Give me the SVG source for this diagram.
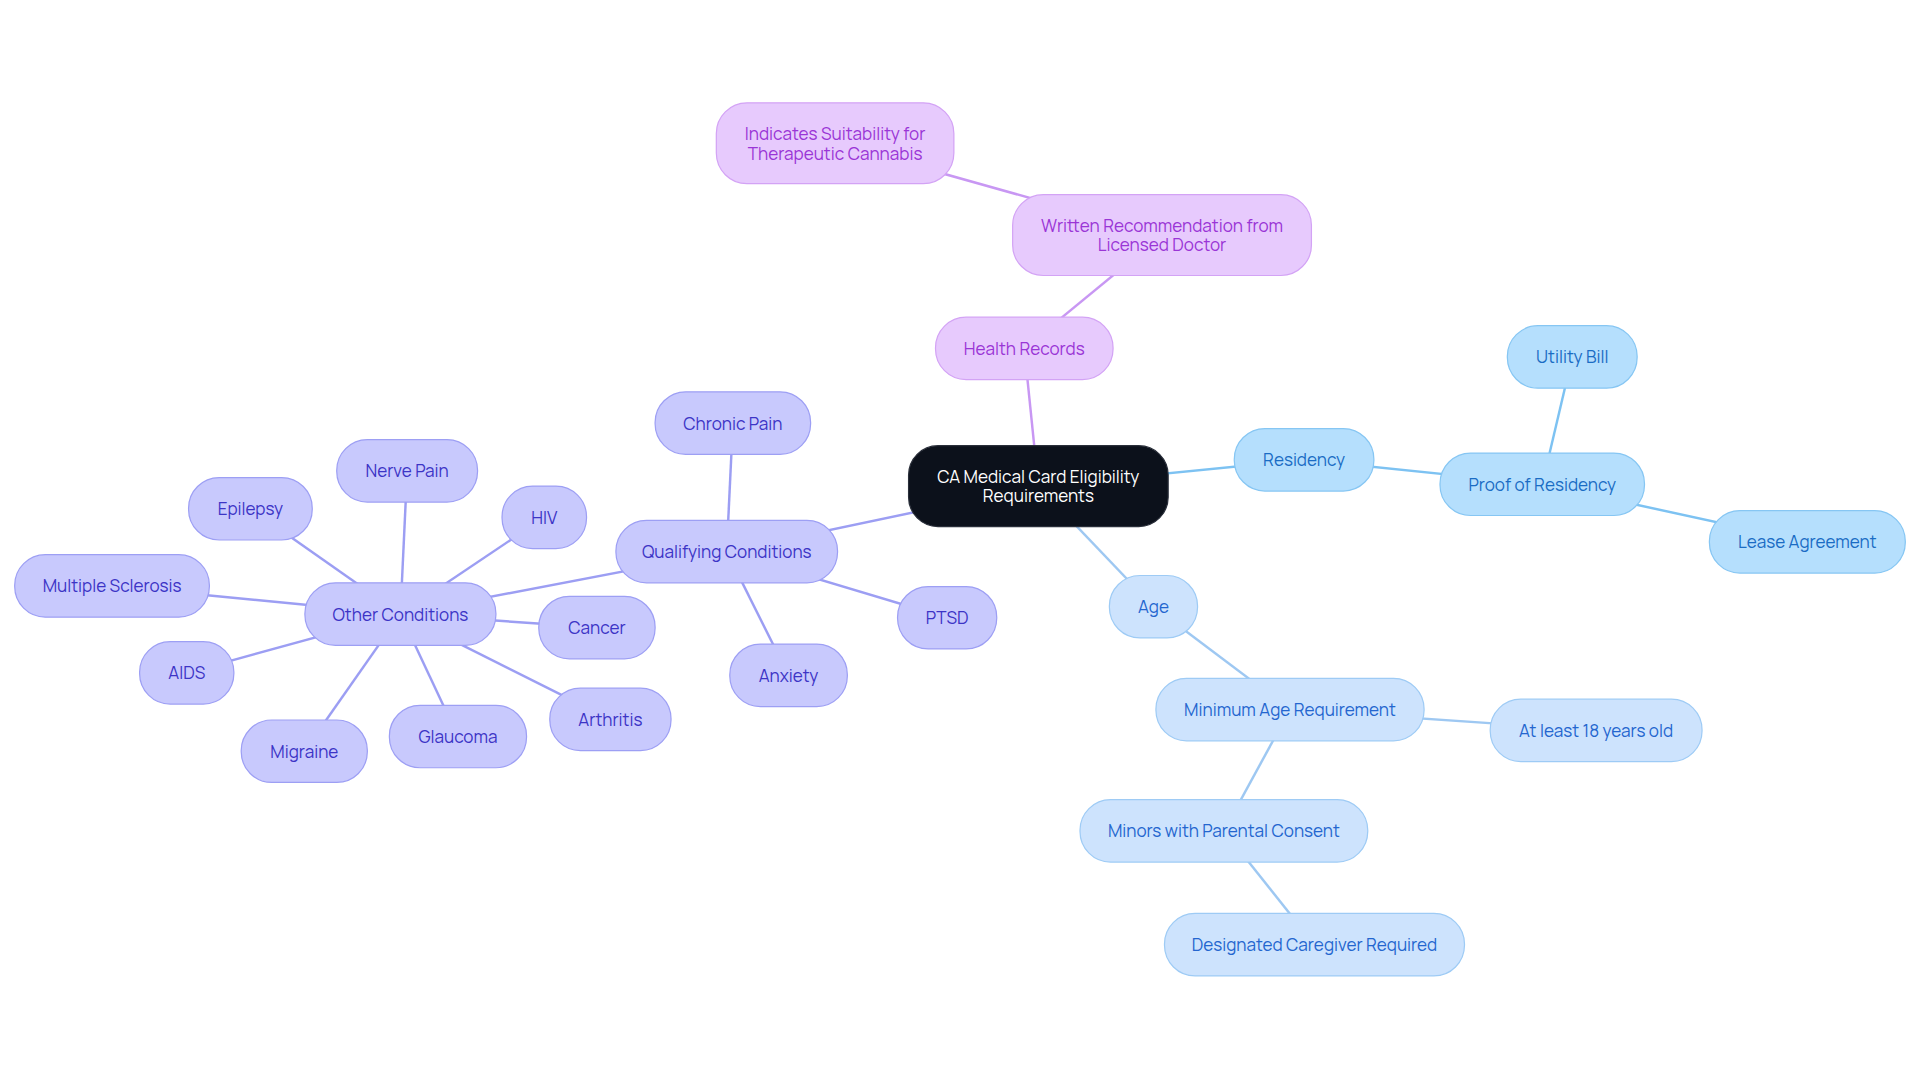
<svg xmlns="http://www.w3.org/2000/svg" width="1920" height="1083" viewBox="0 0 1920 1083">
<style>
text{font-family:Manrope,Inter,"Noto Sans",sans-serif;font-size:14px;text-anchor:middle;dominant-baseline:central}
rect{stroke-width:1}
.root rect{fill:#0c111b;stroke:#2a2f3a}
.root text{fill:#ffffff}
.p rect{fill:#e7cafd;stroke:#d3a3f5}
.p text{fill:#9a35d6}
.b rect{fill:#b5dffd;stroke:#86c6f3}
.b text{fill:#1a6cc4}
.a rect{fill:#cde3fd;stroke:#9ecbf5}
.a text{fill:#2466cf}
.q rect{fill:#c8c9fd;stroke:#9d9ff4}
.q text{fill:#3c34c6}
#edges line{stroke-width:2;fill:none}
.ep{stroke:#c897f3}
.eb{stroke:#7dc2f2}
.ea{stroke:#9ec8f2}
.eq{stroke:#9c9ef3}
</style>
<rect width="1920" height="1083" fill="#ffffff"/>
<g transform="scale(1.22449)">
<g id="edges">
<line class="ep" x1="848" y1="397" x2="836.5" y2="284.5"/>
<line class="ep" x1="836.5" y1="284.5" x2="949" y2="192"/>
<line class="ep" x1="949" y1="192" x2="682" y2="117"/>
<line class="eb" x1="848" y1="397" x2="1065" y2="375.5"/>
<line class="eb" x1="1065" y1="375.5" x2="1259.5" y2="395.5"/>
<line class="eb" x1="1259.5" y1="395.5" x2="1284" y2="291.5"/>
<line class="eb" x1="1259.5" y1="395.5" x2="1476" y2="442.5"/>
<line class="ea" x1="848" y1="397" x2="942" y2="495.5"/>
<line class="ea" x1="942" y1="495.5" x2="1053.5" y2="579.5"/>
<line class="ea" x1="1053.5" y1="579.5" x2="1303.5" y2="596.5"/>
<line class="ea" x1="1053.5" y1="579.5" x2="999.5" y2="678.5"/>
<line class="ea" x1="999.5" y1="678.5" x2="1073.5" y2="771.5"/>
<line class="eq" x1="848" y1="397" x2="593.5" y2="450.5"/>
<line class="eq" x1="593.5" y1="450.5" x2="598.5" y2="345.5"/>
<line class="eq" x1="593.5" y1="450.5" x2="773.5" y2="504.5"/>
<line class="eq" x1="593.5" y1="450.5" x2="644" y2="551.5"/>
<line class="eq" x1="593.5" y1="450.5" x2="327" y2="501.5"/>
<line class="eq" x1="327" y1="501.5" x2="332.5" y2="384.5"/>
<line class="eq" x1="327" y1="501.5" x2="204.5" y2="415.5"/>
<line class="eq" x1="327" y1="501.5" x2="444.5" y2="422.5"/>
<line class="eq" x1="327" y1="501.5" x2="91.5" y2="478.5"/>
<line class="eq" x1="327" y1="501.5" x2="487.5" y2="512.5"/>
<line class="eq" x1="327" y1="501.5" x2="152.5" y2="549.5"/>
<line class="eq" x1="327" y1="501.5" x2="248.5" y2="613.5"/>
<line class="eq" x1="327" y1="501.5" x2="374" y2="601.5"/>
<line class="eq" x1="327" y1="501.5" x2="498.5" y2="587.5"/>
</g>
<g id="root" class="root"><rect x="742" y="364" width="212" height="66" rx="24"/><text x="848" y="389">CA Medical Card Eligibility</text><text x="848" y="405">Requirements</text></g>
<g id="health-records" class="p"><rect x="764" y="259" width="145" height="51" rx="25"/><text x="836.5" y="284.5">Health Records</text></g>
<g id="written-recommendation" class="p"><rect x="827" y="159" width="244" height="66" rx="25"/><text x="949" y="184">Written Recommendation from</text><text x="949" y="200">Licensed Doctor</text></g>
<g id="indicates-suitability" class="p"><rect x="585" y="84" width="194" height="66" rx="25"/><text x="682" y="109">Indicates Suitability for</text><text x="682" y="125">Therapeutic Cannabis</text></g>
<g id="residency" class="b"><rect x="1008" y="350" width="114" height="51" rx="25"/><text x="1065" y="375.5">Residency</text></g>
<g id="proof-of-residency" class="b"><rect x="1176" y="370" width="167" height="51" rx="25"/><text x="1259.5" y="395.5">Proof of Residency</text></g>
<g id="utility-bill" class="b"><rect x="1231" y="266" width="106" height="51" rx="25"/><text x="1284" y="291.5">Utility Bill</text></g>
<g id="lease-agreement" class="b"><rect x="1396" y="417" width="160" height="51" rx="25"/><text x="1476" y="442.5">Lease Agreement</text></g>
<g id="age" class="a"><rect x="906" y="470" width="72" height="51" rx="25"/><text x="942" y="495.5">Age</text></g>
<g id="minimum-age" class="a"><rect x="944" y="554" width="219" height="51" rx="25"/><text x="1053.5" y="579.5">Minimum Age Requirement</text></g>
<g id="at-least-18" class="a"><rect x="1217" y="571" width="173" height="51" rx="25"/><text x="1303.5" y="596.5">At least 18 years old</text></g>
<g id="minors" class="a"><rect x="882" y="653" width="235" height="51" rx="25"/><text x="999.5" y="678.5">Minors with Parental Consent</text></g>
<g id="designated-caregiver" class="a"><rect x="951" y="746" width="245" height="51" rx="25"/><text x="1073.5" y="771.5">Designated Caregiver Required</text></g>
<g id="qualifying-conditions" class="q"><rect x="503" y="425" width="181" height="51" rx="25"/><text x="593.5" y="450.5">Qualifying Conditions</text></g>
<g id="chronic-pain" class="q"><rect x="535" y="320" width="127" height="51" rx="25"/><text x="598.5" y="345.5">Chronic Pain</text></g>
<g id="ptsd" class="q"><rect x="733" y="479" width="81" height="51" rx="25"/><text x="773.5" y="504.5">PTSD</text></g>
<g id="anxiety" class="q"><rect x="596" y="526" width="96" height="51" rx="25"/><text x="644" y="551.5">Anxiety</text></g>
<g id="other-conditions" class="q"><rect x="249" y="476" width="156" height="51" rx="25"/><text x="327" y="501.5">Other Conditions</text></g>
<g id="nerve-pain" class="q"><rect x="275" y="359" width="115" height="51" rx="25"/><text x="332.5" y="384.5">Nerve Pain</text></g>
<g id="epilepsy" class="q"><rect x="154" y="390" width="101" height="51" rx="25"/><text x="204.5" y="415.5">Epilepsy</text></g>
<g id="hiv" class="q"><rect x="410" y="397" width="69" height="51" rx="25"/><text x="444.5" y="422.5">HIV</text></g>
<g id="multiple-sclerosis" class="q"><rect x="12" y="453" width="159" height="51" rx="25"/><text x="91.5" y="478.5">Multiple Sclerosis</text></g>
<g id="cancer" class="q"><rect x="440" y="487" width="95" height="51" rx="25"/><text x="487.5" y="512.5">Cancer</text></g>
<g id="aids" class="q"><rect x="114" y="524" width="77" height="51" rx="25"/><text x="152.5" y="549.5">AIDS</text></g>
<g id="migraine" class="q"><rect x="197" y="588" width="103" height="51" rx="25"/><text x="248.5" y="613.5">Migraine</text></g>
<g id="glaucoma" class="q"><rect x="318" y="576" width="112" height="51" rx="25"/><text x="374" y="601.5">Glaucoma</text></g>
<g id="arthritis" class="q"><rect x="449" y="562" width="99" height="51" rx="25"/><text x="498.5" y="587.5">Arthritis</text></g>
</g>
</svg>
